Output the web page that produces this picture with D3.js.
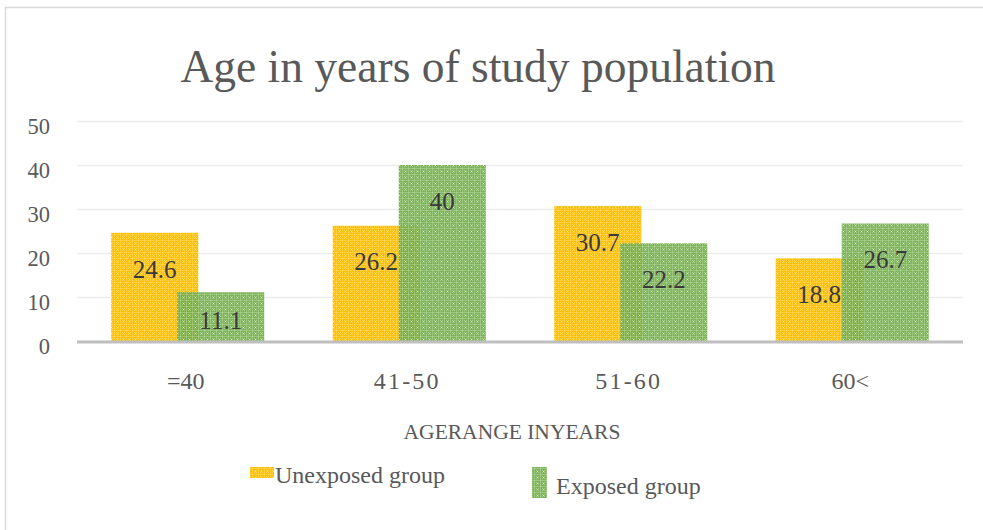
<!DOCTYPE html>
<html>
<head>
<meta charset="utf-8">
<script src="https://cdn.jsdelivr.net/npm/d3@7"></script>
<style>
  html, body { margin: 0; padding: 0; background: #fff; }
  svg { display: block; }
  text { font-family: "Liberation Serif", "Times New Roman", serif; }
</style>
</head>
<body>
<svg id="chart" width="983" height="530"></svg>
<script>
const categories = ["=40", "41-50", "51-60", "60<"];
const unexposed = [24.6, 26.2, 30.7, 18.8];
const exposed = [11.1, 40, 22.2, 26.7];
const seriesNames = ["Unexposed group", "Exposed group"];
const yTicks = [0, 10, 20, 30, 40, 50];
const title = "Age in years of study population";
const xTitle = "AGERANGE INYEARS";

(function () {
const pLeft = 77, pRight = 963, pTop = 121, pBottom = 341;
const yellow = "#FFC000", green = "#70AD47";

const svg = d3.select("#chart");
const defs = svg.append("defs");

function makePattern(id, color, opacity) {
  const p = defs.append("pattern").attr("id", id).attr("patternUnits", "userSpaceOnUse")
    .attr("width", 6).attr("height", 6);
  p.append("rect").attr("width", 6).attr("height", 6).attr("fill", color).attr("fill-opacity", opacity);
  p.append("rect").attr("x", 0).attr("y", 0).attr("width", 6).attr("height", 1).attr("fill", "#fff").attr("fill-opacity", 0.22);
  p.append("rect").attr("x", 0).attr("y", 0).attr("width", 1).attr("height", 6).attr("fill", "#fff").attr("fill-opacity", 0.22);
  p.append("rect").attr("x", 3).attr("y", 3).attr("width", 1).attr("height", 1).attr("fill", "#fff").attr("fill-opacity", 0.75);
  p.append("rect").attr("x", 2).attr("y", 2).attr("width", 1).attr("height", 1).attr("fill", "#fff").attr("fill-opacity", 0.3);
  p.append("rect").attr("x", 4).attr("y", 4).attr("width", 1).attr("height", 1).attr("fill", "#fff").attr("fill-opacity", 0.3);
  p.append("rect").attr("x", 4).attr("y", 2).attr("width", 1).attr("height", 1).attr("fill", "#fff").attr("fill-opacity", 0.3);
  p.append("rect").attr("x", 2).attr("y", 4).attr("width", 1).attr("height", 1).attr("fill", "#fff").attr("fill-opacity", 0.3);
}
makePattern("patY", yellow, 1);
makePattern("patG", green, 0.9);

// frame
svg.append("rect").attr("x", 5.5).attr("y", 7.5).attr("width", 1200).attr("height", 1200)
  .attr("fill", "none").attr("stroke", "#d9d9d9").attr("stroke-width", 1.5);

const x = d3.scaleBand().domain(categories).range([pLeft, pRight]).paddingInner(0.309).paddingOuter(0.1545);
const y = d3.scaleLinear().domain([0, 50]).range([pBottom, pTop]);

// grid + y labels via axis
const yAxis = svg.append("g").attr("transform", `translate(${pLeft},0)`)
  .call(d3.axisLeft(y).tickValues(yTicks).tickSize(-(pRight - pLeft)).tickPadding(27));
yAxis.select(".domain").remove();
yAxis.selectAll(".tick line").attr("stroke", "#ececec").attr("stroke-width", 1.5);
yAxis.selectAll(".tick text").attr("fill", "#595959").attr("font-size", 22.5)
  .attr("font-family", "Liberation Serif, serif").attr("dy", "0.55em");

// bars
const barW = x.bandwidth() * 87 / 153;
const gBars = svg.append("g");
gBars.selectAll("rect.u").data(categories).join("rect").attr("class", "u")
  .attr("x", d => x(d)).attr("width", barW)
  .attr("y", (d, i) => y(unexposed[i])).attr("height", (d, i) => y(0) - y(unexposed[i]))
  .attr("fill", "url(#patY)");
gBars.selectAll("rect.e").data(categories).join("rect").attr("class", "e")
  .attr("x", d => x(d) + x.bandwidth() - barW).attr("width", barW)
  .attr("y", (d, i) => y(exposed[i])).attr("height", (d, i) => y(0) - y(exposed[i]))
  .attr("fill", "url(#patG)");

// baseline
svg.append("line").attr("x1", pLeft).attr("x2", pRight).attr("y1", y(0) + 1).attr("y2", y(0) + 1)
  .attr("stroke", "#bfbfbf").attr("stroke-width", 3);

// data labels
function labelY(v) { return Math.min(y(v) + 36, y(0) - 21); }
const gl = svg.append("g").attr("font-size", 25).attr("fill", "#3a3a3a").attr("text-anchor", "middle");
gl.selectAll("text.u").data(categories).join("text").attr("class", "u")
  .attr("x", d => x(d) + barW / 2).attr("y", (d, i) => labelY(unexposed[i]))
  .attr("dy", "0.35em").text((d, i) => unexposed[i]);
gl.selectAll("text.e").data(categories).join("text").attr("class", "e")
  .attr("x", d => x(d) + x.bandwidth() - barW / 2).attr("y", (d, i) => labelY(exposed[i]))
  .attr("dy", "0.35em").text((d, i) => exposed[i]);

// x axis labels
const xAxis = svg.append("g").attr("transform", `translate(0,${y(0)})`)
  .call(d3.axisBottom(x).tickSize(0).tickPadding(31));
xAxis.select(".domain").remove();
xAxis.selectAll(".tick text").attr("fill", "#595959").attr("font-size", 24)
  .attr("font-family", "Liberation Serif, serif")
  .attr("letter-spacing", d => /\d-\d/.test(d) ? "2.2px" : "0px")
  .attr("dx", -2);

// titles
svg.append("text").attr("x", 478).attr("y", 82).attr("text-anchor", "middle")
  .attr("font-size", 45.5).attr("fill", "#595959").text(title);
svg.append("text").attr("x", 512).attr("y", 439).attr("text-anchor", "middle")
  .attr("font-size", 21.5).attr("fill", "#595959").text(xTitle);

// legend
const lg = svg.append("g");
lg.append("rect").attr("x", 250).attr("y", 467).attr("width", 24).attr("height", 11).attr("fill", "url(#patY)");
lg.append("text").attr("x", 275).attr("y", 483).attr("font-size", 24).attr("fill", "#595959").text(seriesNames[0]);
lg.append("rect").attr("x", 532).attr("y", 467).attr("width", 15).attr("height", 31).attr("fill", "url(#patG)");
lg.append("text").attr("x", 556).attr("y", 494).attr("font-size", 24).attr("fill", "#595959").text(seriesNames[1]);
})();
</script>
</body>
</html>
